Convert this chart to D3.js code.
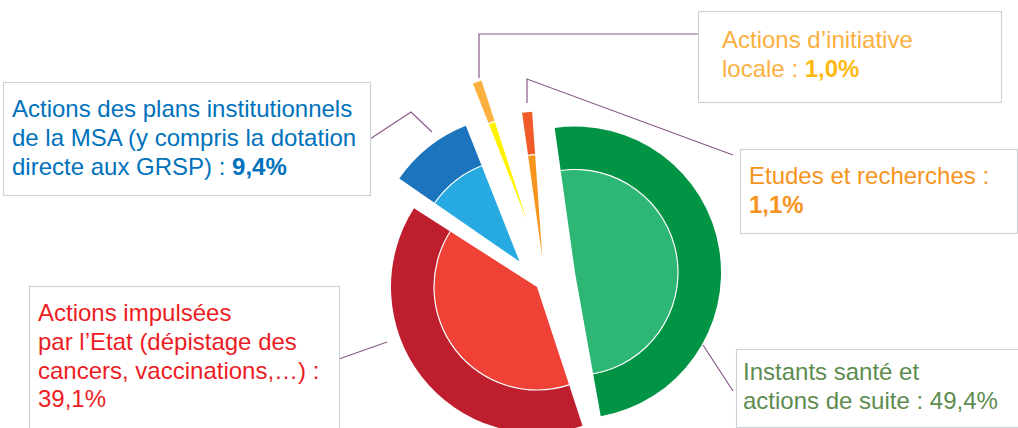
<!DOCTYPE html>
<html>
<head>
<meta charset="utf-8">
<script src="https://cdn.jsdelivr.net/npm/d3@7"></script>
<style>
  body { margin: 0; background: #fff; }
  svg { display: block; }
</style>
</head>
<body>
<script>
const wid = 1018, hei = 428;

// data
const categories = [
    'Instants santé et actions de suite',
    'Actions impulsées par l’Etat',
    'Actions des plans institutionnels de la MSA',
    'Actions d’initiative locale',
    'Etudes et recherches'
];
const shares = [49.4, 39.1, 9.4, 1.0, 1.1];
const labelLines = [
    ['Instants santé et', 'actions de suite : '],
    ['Actions impulsées', 'par l’Etat (dépistage des', 'cancers, vaccinations,…) :', ''],
    ['Actions des plans institutionnels', 'de la MSA (y compris la dotation', 'directe aux GRSP) : '],
    ['Actions d’initiative', 'locale : '],
    ['Etudes et recherches :', '']
];

// styles
const darkCol  = ['#009444', '#BE1E2D', '#1C75BC', '#FBB040', '#F15A29'];
const lightCol = ['#2EB674', '#EF4136', '#27AAE1', '#FFF200', '#F7941D'];
const textCol  = ['#5E8C50', '#ED1C24', '#0072BC', '#FBB040', '#F7941D'];
const valCol   = ['#5E8C50', '#ED1C24', '#0072BC', '#FDB913', '#F7941D'];
const valBold  = [false, false, true, true, true];

// exploded layout: shift of each piece from the centre, and a small turn (deg)
const cx = 550, cy = 280;
const nudge = [[25, -7.5], [-13, 7], [-30.5, -18.5], [-23.5, -60.6], [-7.7, -22.7]];
const turn = [3, -5, -3, -3, 7];
const R = 146, r = 103;

// label boxes [x, y, w, h] and first baseline
const boxes = [
    {rect: [736, 349, 300, 78], x: 743, y: 380},
    {rect: [29, 286, 310, 160], x: 38, y: 321},
    {rect: [3, 82, 367, 113], x: 12, y: 117},
    {rect: [698, 11, 303, 91], x: 722, y: 48},
    {rect: [740, 149, 277, 84], x: 749, y: 184}
];
const leaders = [
    [[703, 345], [733, 391]],
    [[339, 359], [387, 342]],
    [[370, 139], [411, 112], [432, 132]],
    [[479, 78], [479, 34], [698, 34]],
    [[527, 103], [527, 79], [733, 155]]
];
const lineH = 28.8;

const fr = d3.formatLocale({decimal: ',', thousands: ' ', grouping: [3], currency: ['', ' €']});
const pct = (v) => fr.format('.1f')(v) + '%';

let svgPlot = d3.select('body')
    .append('svg')
    .attr('width', wid)
    .attr('height', hei)
    .style('font-family', '"Liberation Sans", Arial, sans-serif');

const deg = Math.PI / 180;
const pie = d3.pie()
    .sort(null)
    .value((d) => d)
    .startAngle(-11 * deg)
    .endAngle(349 * deg);

const arcOuter = d3.arc().innerRadius(r).outerRadius(R);
const arcInner = d3.arc().innerRadius(0).outerRadius(r);
const arcSep = d3.arc().innerRadius(r - 0.6).outerRadius(r + 0.6);

let pieces = svgPlot.selectAll('g.piece')
    .data(pie(shares))
    .enter()
    .append('g')
    .attr('class', 'piece')
    .attr('transform', (d, i) =>
        `translate(${cx + nudge[i][0]},${cy + nudge[i][1]}) rotate(${turn[i]})`);

pieces.append('path')
    .attr('d', arcOuter)
    .attr('fill', (d, i) => darkCol[i]);

pieces.append('path')
    .attr('d', arcInner)
    .attr('fill', (d, i) => lightCol[i]);

pieces.append('path')
    .attr('d', arcSep)
    .attr('fill', '#fff');

// leader lines
svgPlot.selectAll('polyline')
    .data(leaders)
    .enter()
    .append('polyline')
    .attr('points', (d) => d.map((p) => p.join(',')).join(' '))
    .attr('fill', 'none')
    .attr('stroke', '#8A5A8A')
    .attr('stroke-width', 1.2);

// label boxes
svgPlot.selectAll('rect.box')
    .data(boxes)
    .enter()
    .append('rect')
    .attr('class', 'box')
    .attr('x', (d) => d.rect[0] + 0.5)
    .attr('y', (d) => d.rect[1] + 0.5)
    .attr('width', (d) => d.rect[2])
    .attr('height', (d) => d.rect[3])
    .attr('fill', '#fff')
    .attr('stroke', '#CDD2D7')
    .attr('stroke-width', 1.2);

// label texts, one <text> per line, value appended on the last one
shares.forEach((v, i) => {
    let lines = labelLines[i];
    lines.forEach((ln, k) => {
        let t = svgPlot.append('text')
            .attr('x', boxes[i].x)
            .attr('y', boxes[i].y + k * lineH)
            .attr('font-size', '24px')
            .attr('fill', textCol[i])
            .text(ln);
        if (k == lines.length - 1) {
            t.append('tspan')
                .attr('fill', valCol[i])
                .attr('font-weight', valBold[i] ? 'bold' : 'normal')
                .text(pct(v));
        }
    });
});
</script>
</body>
</html>
